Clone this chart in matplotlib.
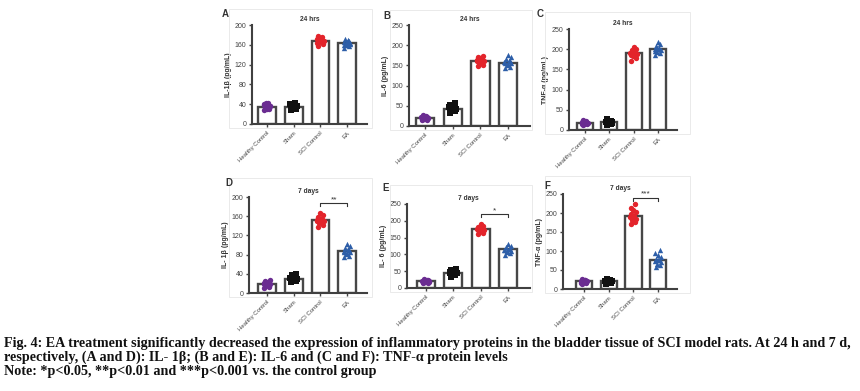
import matplotlib
matplotlib.use("Agg")

import matplotlib.pyplot as plt
from matplotlib.patches import Rectangle
import numpy as np

W, H = 860, 391

GROUPS = ["Healthy Control", "Sham", "SCI Control", "EA"]
COLORS = ["#6a2c91", "#111111", "#e3242b", "#2d5ea8"]
MARKERS = ["o", "s", "o", "^"]

# bar heights (means)
BARS_A = [35, 35, 168, 163]
BARS_B = [20, 43, 162, 157]
BARS_C = [18, 20, 190, 200]
BARS_D = [18, 30, 152, 88]
BARS_E = [20, 45, 175, 115]
BARS_F = [20, 20, 192, 77]

# individual points per group
PTS_A = [[28, 31, 34, 37, 40, 43, 33, 36, 30, 39, 35, 42],
         [28, 31, 34, 37, 40, 43, 33, 36, 30, 39, 35, 41],
         [158, 162, 165, 168, 171, 174, 178, 166, 170, 163, 176, 169],
         [153, 157, 160, 163, 166, 169, 172, 162, 165, 159, 168, 164]]
PTS_B = [[14, 16, 18, 20, 22, 24, 26, 19, 21, 17, 23, 20],
         [33, 37, 40, 43, 46, 49, 53, 56, 42, 45, 39, 48],
         [148, 152, 156, 160, 163, 166, 170, 174, 158, 162, 165, 168],
         [143, 147, 151, 155, 158, 161, 165, 170, 153, 157, 160, 176]]
PTS_C = [[12, 14, 16, 18, 20, 22, 24, 17, 19, 15, 21, 18],
         [13, 15, 17, 19, 21, 23, 26, 18, 20, 16, 22, 19],
         [172, 178, 183, 187, 190, 193, 197, 201, 206, 185, 192, 189],
         [185, 190, 194, 198, 201, 204, 208, 212, 217, 196, 200, 203]]
PTS_D = [[10, 13, 16, 18, 20, 22, 25, 28, 17, 19, 15, 21],
         [22, 25, 28, 30, 32, 34, 37, 40, 29, 31, 27, 33],
         [138, 142, 146, 149, 152, 155, 158, 162, 166, 150, 154, 148],
         [74, 78, 82, 85, 88, 91, 94, 98, 103, 86, 89, 84]]
PTS_E = [[14, 16, 18, 20, 22, 24, 26, 19, 21, 17, 23, 20],
         [34, 38, 41, 44, 47, 50, 54, 58, 43, 46, 40, 48],
         [160, 165, 169, 172, 175, 178, 181, 185, 190, 174, 177, 171],
         [98, 103, 107, 111, 114, 117, 121, 126, 132, 113, 116, 110]]
PTS_F = [[14, 16, 18, 20, 22, 24, 26, 19, 21, 17, 23, 20],
         [14, 16, 18, 20, 22, 24, 26, 19, 21, 17, 23, 20],
         [170, 176, 181, 185, 189, 193, 197, 202, 208, 214, 224, 191],
         [58, 63, 67, 71, 74, 77, 80, 84, 89, 95, 103, 76]]

YLABELS = ["IL-1\u03b2 (pg/mL)", "IL-6 (pg/mL)", "TNF-\u03b1 (pg/mL)",
           "IL- 1\u03b2 (pg/mL)", "IL- 6 (pg/mL)", "TNF-\u03b1 (pg/mL)"]
TITLES = ["24 hrs", "24 hrs", "24 hrs", "7 days", "7 days", "7 days"]
LETTERS = ["A", "B", "C", "D", "E", "F"]
YMAX = [200, 250, 250, 200, 250, 250]
YSTEP = [40, 50, 50, 40, 50, 50]

# significance (SCI vs EA) for the 7 day panels
SIG_TEXT = [None, None, None, "**", "*", "***"]
SIG_Y = [None, None, None, 187, 220, 240]

CAPTION = [
    "Fig. 4: EA treatment significantly decreased the expression of inflammatory proteins in the bladder tissue of SCI model rats. At 24 h and 7 d,",
    "respectively, (A and D): IL- 1\u03b2; (B and E): IL-6 and (C and F): TNF-\u03b1 protein levels",
    "Note: *p<0.05, **p<0.01 and ***p<0.001 vs. the control group",
]

# layout in pixels: axis left, axis right, y top, y bottom, first bar center, bar spacing
LAYOUT = [
    (252, 367, 25, 124, 267, 26.7),
    (409, 530, 25, 126, 425, 27.7),
    (569, 677, 29, 130, 585, 24.3),
    (249, 367, 197, 293, 267, 26.7),
    (407, 530, 204, 288, 426, 27.3),
    (563, 677, 194, 289, 584, 24.7),
]
LETTER_POS = [(222, 14), (383, 16), (537, 14), (225, 183), (382, 188), (544, 186)]
FRAMES = [(229, 9, 372, 128), (390, 10, 532, 130), (545, 12, 690, 134),
          (229, 178, 372, 297), (390, 185, 532, 292), (545, 176, 690, 293)]
JITTER = [-0.1, 0.08, -0.04, 0.12, -0.13, 0.03, -0.08, 0.1, 0.0, -0.11, 0.06, -0.02]

plt.rcParams["font.family"] = ["Liberation Sans", "DejaVu Sans"]

fig = plt.figure(figsize=(W / 100, H / 100), dpi=100)
fig.patch.set_facecolor("white")

bars_all = [BARS_A, BARS_B, BARS_C, BARS_D, BARS_E, BARS_F]
pts_all = [PTS_A, PTS_B, PTS_C, PTS_D, PTS_E, PTS_F]

for i in range(6):
    fx0, fy0, fx1, fy1 = FRAMES[i]
    fig.add_artist(Rectangle((fx0 / W, 1 - fy1 / H), (fx1 - fx0) / W, (fy1 - fy0) / H,
                             transform=fig.transFigure, fill=False, ec="#e6e6e6", lw=0.6))

    x0, x1, yt, yb, c0, sp = LAYOUT[i]
    ax = fig.add_axes([x0 / W, 1 - yb / H, (x1 - x0) / W, (yb - yt) / H])
    ax.set_facecolor("none")
    xs = np.arange(4)
    ax.bar(xs, bars_all[i], width=0.66, color="white", edgecolor="#474747", linewidth=1.7, zorder=2)
    for g in range(4):
        vals = pts_all[i][g]
        ax.scatter(xs[g] + np.array(JITTER[:len(vals)]), vals, s=15, color=COLORS[g],
                   marker=MARKERS[g], linewidths=0, zorder=3, clip_on=False)
    ax.set_xlim(-(c0 - x0) / sp, (x1 - c0) / sp)
    ax.set_ylim(0, YMAX[i])
    ax.set_yticks(np.arange(0, YMAX[i] + 1, YSTEP[i]))
    ax.set_xticks(xs)
    ax.set_xticklabels(GROUPS, rotation=45, ha="right", rotation_mode="anchor", fontsize=4.3)
    ax.tick_params(axis="y", labelsize=5, length=2.5, width=1, pad=1.5, colors="#444444")
    ax.tick_params(axis="x", length=2.5, width=1, pad=2, colors="#444444")
    for s in ["top", "right"]:
        ax.spines[s].set_visible(False)
    for s in ["left", "bottom"]:
        ax.spines[s].set_linewidth(1.5)
        ax.spines[s].set_color("#404040")
    ax.set_ylabel(YLABELS[i], fontsize=5, fontweight="bold", labelpad=2, color="#333333")
    ax.set_title(TITLES[i], fontsize=4.8, fontweight="bold", pad=3, color="#333333")

    if SIG_TEXT[i]:
        y = SIG_Y[i]
        d = YMAX[i] * 0.03
        ax.plot([2, 2, 3, 3], [y - d, y, y, y - d], color="#333333", lw=0.8, clip_on=False)
        ax.text(2.5, y, SIG_TEXT[i], ha="center", va="bottom", fontsize=6, color="#333333")

    lx, ly = LETTER_POS[i]
    fig.text(lx / W, 1 - ly / H, LETTERS[i], fontsize=7, fontweight="bold",
             ha="left", va="center", color="#333333")

for k, line in enumerate(CAPTION):
    fig.text(4 / W, 1 - (343 + 14 * k) / H, line, fontsize=10.2, fontweight="bold",
             family=["Liberation Serif", "DejaVu Serif"], ha="left", va="center", color="#111111")

fig.savefig("out.png", dpi=100)
